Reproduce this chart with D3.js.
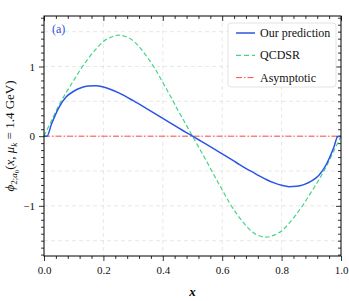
<!DOCTYPE html>
<html>
<head>
<meta charset="utf-8">
<script src="https://cdn.jsdelivr.net/npm/d3@7"></script>
<style>
  body { margin: 0; background: #fff; }
  svg text { font-family: "Liberation Serif", "DejaVu Serif", serif; }
</style>
</head>
<body>
<div id="chart"></div>
<script>
// x grid of the read-off points
var xs = [0, 0.01, 0.025, 0.05, 0.075, 0.1, 0.125, 0.15, 0.175, 0.2, 0.225, 0.25, 0.275, 0.3,
  0.325, 0.35, 0.375, 0.4, 0.425, 0.45, 0.475, 0.5, 0.525, 0.55, 0.575, 0.6, 0.625, 0.65,
  0.675, 0.7, 0.725, 0.75, 0.775, 0.8, 0.825, 0.85, 0.875, 0.9, 0.925, 0.95, 0.975, 0.99, 1];

// our prediction (blue)
var ours = [0, 0.0, 0.17, 0.41, 0.565, 0.645, 0.695, 0.72, 0.725, 0.705, 0.67, 0.625, 0.57, 0.51,
  0.45, 0.385, 0.32, 0.255, 0.19, 0.125, 0.062, 0, -0.062, -0.125, -0.19, -0.255, -0.32, -0.385,
  -0.45, -0.51, -0.57, -0.625, -0.67, -0.705, -0.725, -0.72, -0.695, -0.645, -0.565, -0.41, -0.17, 0.0, 0];

// QCDSR (green dashed)
var qcdsr = [0, 0.09, 0.22, 0.44, 0.63, 0.80, 0.97, 1.12, 1.25, 1.36, 1.42, 1.45, 1.43, 1.37,
  1.26, 1.12, 0.96, 0.77, 0.58, 0.38, 0.19, 0, -0.19, -0.38, -0.58, -0.77, -0.96, -1.12,
  -1.26, -1.37, -1.43, -1.45, -1.42, -1.36, -1.25, -1.12, -0.97, -0.80, -0.63, -0.44, -0.22, -0.09, 0];

// asymptotic (red dash-dot)
var asyX = [0, 1];
var asyY = [0, 0];

var xTicks = [0, 0.2, 0.4, 0.6, 0.8, 1.0];
var yTicks = [-1, 0, 1];

var width = 349, height = 301;
var margin = {top: 16, right: 8, bottom: 45, left: 44};
var w = width - margin.left - margin.right,
    h = height - margin.top - margin.bottom;

var svg = d3.select("#chart").append("svg")
  .attr("width", width).attr("height", height);

var x = d3.scaleLinear().domain([0, 1]).range([0, w]);
var y = d3.scaleLinear().domain([-1.72, 1.725]).range([h, 0]);

var g = svg.append("g").attr("transform", "translate(" + margin.left + "," + margin.top + ")");

// grid
var gx = d3.range(0.2, 1, 0.2), gy = [-1.5, -1, -0.5, 0, 0.5, 1, 1.5];
g.selectAll(".gx").data(gx).enter().append("line")
  .attr("x1", d => x(d)).attr("x2", d => x(d)).attr("y1", 0).attr("y2", h)
  .attr("stroke", "#e2e2e2").attr("stroke-width", 0.8).attr("stroke-dasharray", "4,3");
g.selectAll(".gy").data(gy).enter().append("line")
  .attr("x1", 0).attr("x2", w).attr("y1", d => y(d)).attr("y2", d => y(d))
  .attr("stroke", "#e2e2e2").attr("stroke-width", 0.8).attr("stroke-dasharray", "4,3");

// axes
var xMinor = d3.range(0, 1.0001, 0.04).filter(v => Math.abs(v * 5 - Math.round(v * 5)) > 1e-6);
var yMinor = d3.range(-17, 18).map(v => v / 10).filter(v => Math.abs(v - Math.round(v)) > 1e-6);

function styleAxis(sel) {
  sel.select(".domain").remove();
  sel.selectAll("line").attr("stroke", "#000").attr("stroke-width", 0.8);
  sel.selectAll("text").attr("font-size", 11).attr("fill", "#111")
    .style("font-family", "'Liberation Serif', serif");
}

g.append("g").attr("transform", "translate(0," + h + ")")
  .call(d3.axisBottom(x).tickValues(xTicks).tickFormat(d3.format(".1f")).tickSize(5).tickPadding(5))
  .call(styleAxis);
g.append("g").attr("transform", "translate(0," + h + ")")
  .call(d3.axisBottom(x).tickValues(xMinor).tickFormat("").tickSize(3)).call(styleAxis);
g.append("g")
  .call(d3.axisTop(x).tickValues(xTicks).tickFormat("").tickSize(-5)).call(styleAxis);
g.append("g")
  .call(d3.axisTop(x).tickValues(xMinor).tickFormat("").tickSize(-3)).call(styleAxis);

g.append("g")
  .call(d3.axisLeft(y).tickValues(yTicks).tickFormat(d => d < 0 ? "\u2212" + Math.abs(d) : d).tickSize(5).tickPadding(4))
  .call(styleAxis);
g.append("g")
  .call(d3.axisLeft(y).tickValues(yMinor).tickFormat("").tickSize(3)).call(styleAxis);
g.append("g").attr("transform", "translate(" + w + ",0)")
  .call(d3.axisRight(y).tickValues(yTicks).tickFormat("").tickSize(-5)).call(styleAxis);
g.append("g").attr("transform", "translate(" + w + ",0)")
  .call(d3.axisRight(y).tickValues(yMinor).tickFormat("").tickSize(-3)).call(styleAxis);

// curves
var line = d3.line().x(d => x(d[0])).y(d => y(d[1])).curve(d3.curveMonotoneX);

g.append("path").datum(d3.zip(asyX, asyY)).attr("d", line)
  .attr("fill", "none").attr("stroke", "#ff4a4a").attr("stroke-width", 1)
  .attr("stroke-dasharray", "6,2,1.5,2");
g.append("path").datum(d3.zip(xs, qcdsr)).attr("d", line)
  .attr("fill", "none").attr("stroke", "#45d487").attr("stroke-width", 1.2)
  .attr("stroke-dasharray", "4.5,2.5");
g.append("path").datum(d3.zip(xs, ours)).attr("d", line)
  .attr("fill", "none").attr("stroke", "#2a55e6").attr("stroke-width", 1.5);

// frame
g.append("rect").attr("width", w).attr("height", h)
  .attr("fill", "none").attr("stroke", "#000").attr("stroke-width", 1);

// panel label
g.append("text").attr("x", 8).attr("y", 17).attr("font-size", 12)
  .attr("fill", "#2a55e6").text("(a)");

// legend
var legend = [
  {name: "Our prediction", color: "#2a55e6", dash: null, sw: 1.5},
  {name: "QCDSR", color: "#45d487", dash: "5,3", sw: 1.2},
  {name: "Asymptotic", color: "#ff4a4a", dash: "6,2,1.5,2", sw: 1}
];
var lg = g.append("g").attr("transform", "translate(" + (228 - margin.left) + "," + (23 - margin.top) + ")");
lg.append("rect").attr("width", 108).attr("height", 64).attr("rx", 3)
  .attr("fill", "#fff").attr("fill-opacity", 0.85).attr("stroke", "#dcdcdc").attr("stroke-width", 0.8);
legend.forEach(function(d, i) {
  var yy = 10 + i * 22.3;
  lg.append("line").attr("x1", 8).attr("x2", 27).attr("y1", yy).attr("y2", yy)
    .attr("stroke", d.color).attr("stroke-width", d.sw).attr("stroke-dasharray", d.dash);
  lg.append("text").attr("x", 32).attr("y", yy + 4).attr("font-size", 12)
    .attr("fill", "#111").text(d.name);
});

// axis labels
svg.append("text").attr("x", margin.left + w / 2).attr("y", 296)
  .attr("text-anchor", "middle").attr("font-size", 13).attr("font-style", "italic")
  .attr("font-weight", "bold").text("x");

var yl = svg.append("text").attr("transform", "translate(14," + (margin.top + h / 2) + ") rotate(-90)")
  .attr("text-anchor", "middle").attr("font-size", 13).attr("fill", "#111");
yl.append("tspan").attr("font-style", "italic").text("\u03d5");
yl.append("tspan").attr("font-size", 9).attr("dy", 3).text("2;");
yl.append("tspan").attr("font-size", 9).attr("font-style", "italic").text("a");
yl.append("tspan").attr("font-size", 7).attr("dy", 2).text("0");
yl.append("tspan").attr("dy", -5).text("(");
yl.append("tspan").attr("font-style", "italic").text("x");
yl.append("tspan").text(", ");
yl.append("tspan").attr("font-style", "italic").text("\u03bc");
yl.append("tspan").attr("font-size", 9).attr("font-style", "italic").attr("dy", 3).text("k");
yl.append("tspan").attr("dy", -3).text(" = 1.4 GeV)");
</script>
</body>
</html>
